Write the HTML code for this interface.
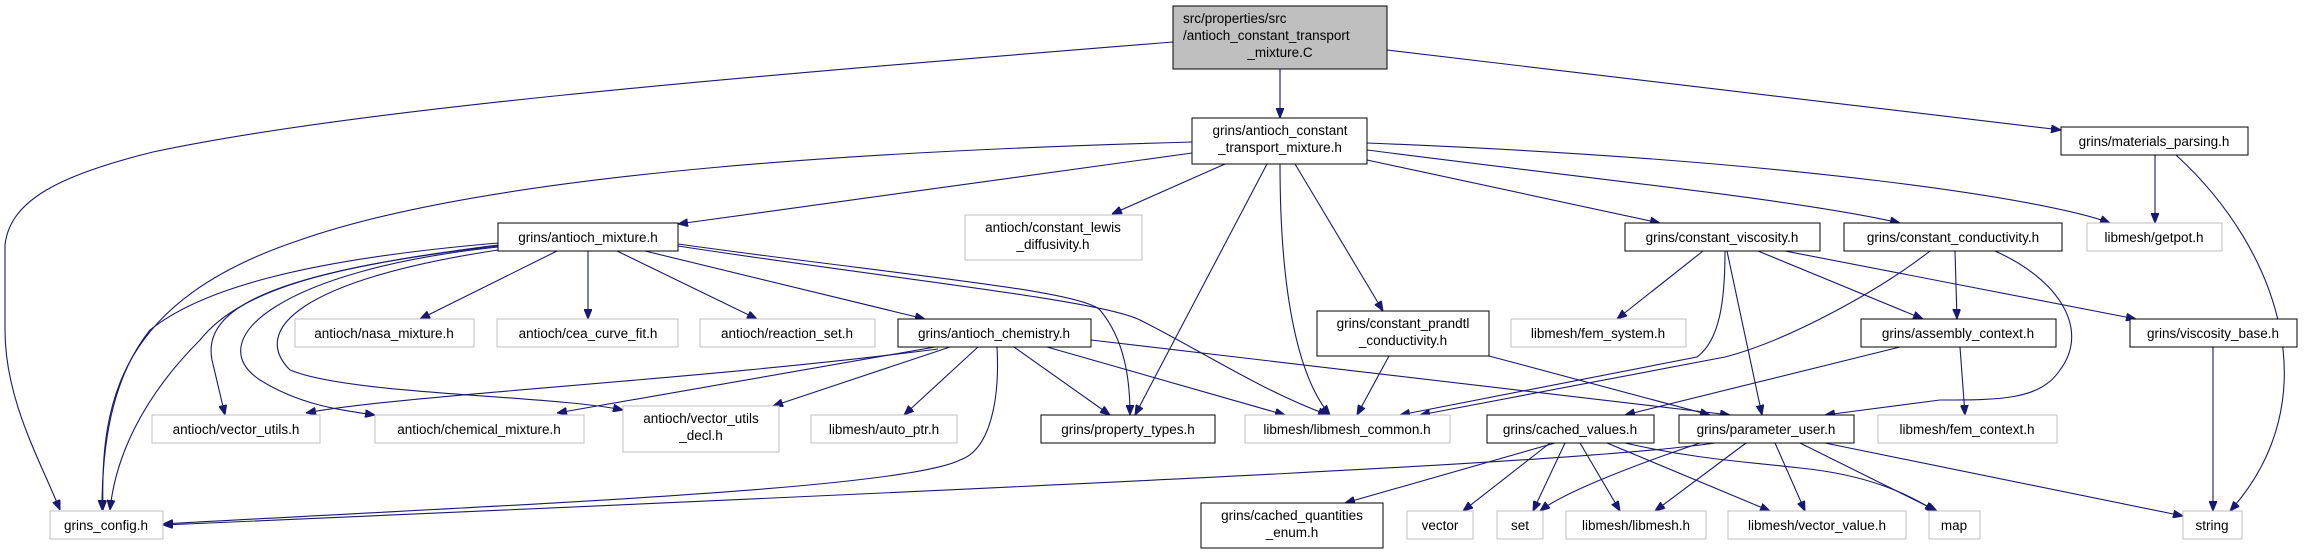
<!DOCTYPE html>
<html><head><meta charset="utf-8"><style>
html,body{margin:0;padding:0;background:#fff;}
svg{display:block;}
text{font-family:"Liberation Sans",Arial,sans-serif;font-size:13.5px;fill:#000;}
.e{fill:none;stroke:#191970;stroke-width:1.1;marker-end:url(#a);}
.g{fill:#fff;stroke:#bfbfbf;stroke-width:1;}
.b{fill:#fff;stroke:#000;stroke-width:1;}
</style></head><body>
<svg width="2319" height="555" viewBox="0 0 2319 555" xmlns="http://www.w3.org/2000/svg">
<defs><marker id="a" viewBox="0 0 10 8" refX="10" refY="4" markerWidth="10" markerHeight="8" markerUnits="userSpaceOnUse" orient="auto"><path d="M0,0 L10,4 L0,8 z" fill="#191970" stroke="#191970"/></marker></defs>

<path class="e" d="M1173,42 C700,80 350,110 153,152 C60,175 10,200 5,245 L5,330 C5,400 40,460 60,510"/>
<path class="e" d="M1280,69 L1280,118"/>
<path class="e" d="M1387,50 L2061,130"/>

<path class="e" d="M1192,142 C900,150 500,170 300,240 C120,300 100,400 103,510"/>
<path class="e" d="M1192,153 L678,224"/>
<path class="e" d="M1225,164 L1112,214"/>
<path class="e" d="M1267,164 L1135,415"/>
<path class="e" d="M1280,164 C1280,300 1300,380 1330,415"/>
<path class="e" d="M1295,164 L1383,311"/>
<path class="e" d="M1367,160 L1660,223"/>
<path class="e" d="M1367,150 C1600,180 1800,200 1900,223"/>
<path class="e" d="M1367,143 C1800,160 2050,200 2110,223"/>

<path class="e" d="M557,251 L420,319"/>
<path class="e" d="M588,251 L588,319"/>
<path class="e" d="M617,251 L757,319"/>
<path class="e" d="M645,251 L925,319"/>
<path class="e" d="M678,244 C900,275 1080,290 1100,310 C1125,340 1130,380 1130,415"/>
<path class="e" d="M678,246 C900,280 1100,300 1140,320 C1200,350 1260,390 1328,415"/>
<path class="e" d="M498,243 C300,260 200,290 150,330 C110,380 102,450 102,510"/>
<path class="e" d="M498,246 C330,265 240,290 200,340 C140,400 115,460 110,510"/>
<path class="e" d="M498,245 C300,270 200,300 212,360 L225,415"/>
<path class="e" d="M498,247 C280,270 200,340 260,380 C300,405 340,410 375,415"/>
<path class="e" d="M498,250 C300,280 250,330 290,370 C350,395 550,395 623,410"/>

<path class="e" d="M938,349 C700,380 400,395 306,413"/>
<path class="e" d="M935,347 L557,413"/>
<path class="e" d="M950,347 L773,406"/>
<path class="e" d="M978,347 L904,415"/>
<path class="e" d="M997,347 C1000,400 990,450 960,460 C900,490 500,505 163,524"/>
<path class="e" d="M1014,347 L1110,415"/>
<path class="e" d="M1047,347 L1285,415"/>
<path class="e" d="M1091,340 L1730,415"/>

<path class="e" d="M1389,356 L1357,415"/>
<path class="e" d="M1489,356 L1710,415"/>

<path class="e" d="M1703,251 L1617,319"/>
<path class="e" d="M1725,251 C1725,300 1720,340 1697,357 L1400,415"/>
<path class="e" d="M1727,251 L1762,415"/>
<path class="e" d="M1758,251 L1923,319"/>
<path class="e" d="M1785,251 L2136,319"/>

<path class="e" d="M1930,251 C1880,290 1790,340 1725,357 L1420,415"/>
<path class="e" d="M1955,251 L1957,319"/>
<path class="e" d="M1995,251 C2060,280 2090,330 2060,370 C2040,400 2000,400 1940,400 L1825,415"/>

<path class="e" d="M1900,347 L1625,415"/>
<path class="e" d="M1960,347 L1965,415"/>

<path class="e" d="M2213,347 L2213,511"/>
<path class="e" d="M2155,155 L2155,223"/>
<path class="e" d="M2176,155 C2280,250 2330,400 2230,511"/>

<path class="e" d="M1555,443 L1345,503"/>
<path class="e" d="M1550,443 L1463,511"/>
<path class="e" d="M1565,443 L1533,511"/>
<path class="e" d="M1580,443 L1620,511"/>
<path class="e" d="M1607,443 L1770,511"/>
<path class="e" d="M1625,443 C1700,460 1750,462 1800,468 C1870,475 1910,495 1935,511"/>

<path class="e" d="M1715,443 C1600,460 1200,480 163,525"/>
<path class="e" d="M1700,443 C1620,470 1560,495 1540,511"/>
<path class="e" d="M1746,443 L1655,511"/>
<path class="e" d="M1775,443 L1805,511"/>
<path class="e" d="M1800,443 L1937,511"/>
<path class="e" d="M1825,443 L2183,516"/>

<rect x="1173" y="6" width="214" height="63" fill="#bfbfbf" stroke="#000"/>
<text x="1183" y="23">src/properties/src</text>
<text x="1183" y="40">/antioch_constant_transport</text>
<text x="1280" y="57" text-anchor="middle">_mixture.C</text>

<rect class="b" x="1192" y="118" width="175" height="46"/>
<text x="1280" y="135" text-anchor="middle">grins/antioch_constant</text>
<text x="1280" y="152" text-anchor="middle">_transport_mixture.h</text>

<rect class="b" x="2061" y="127" width="187" height="28"/>
<text x="2154" y="146" text-anchor="middle">grins/materials_parsing.h</text>

<rect class="b" x="498" y="223" width="180" height="28"/>
<text x="588" y="242" text-anchor="middle">grins/antioch_mixture.h</text>

<rect class="g" x="965" y="215" width="177" height="45"/>
<text x="1053" y="232" text-anchor="middle">antioch/constant_lewis</text>
<text x="1053" y="249" text-anchor="middle">_diffusivity.h</text>

<rect class="b" x="1625" y="223" width="195" height="28"/>
<text x="1722" y="242" text-anchor="middle">grins/constant_viscosity.h</text>

<rect class="b" x="1844" y="223" width="218" height="28"/>
<text x="1953" y="242" text-anchor="middle">grins/constant_conductivity.h</text>

<rect class="g" x="2087" y="223" width="135" height="28"/>
<text x="2154" y="242" text-anchor="middle">libmesh/getpot.h</text>

<rect class="g" x="295" y="319" width="179" height="28"/>
<text x="384" y="338" text-anchor="middle">antioch/nasa_mixture.h</text>

<rect class="g" x="497" y="319" width="181" height="28"/>
<text x="588" y="338" text-anchor="middle">antioch/cea_curve_fit.h</text>

<rect class="g" x="700" y="319" width="175" height="28"/>
<text x="787" y="338" text-anchor="middle">antioch/reaction_set.h</text>

<rect class="b" x="898" y="319" width="193" height="28"/>
<text x="994" y="338" text-anchor="middle">grins/antioch_chemistry.h</text>

<rect class="b" x="1317" y="311" width="172" height="45"/>
<text x="1403" y="328" text-anchor="middle">grins/constant_prandtl</text>
<text x="1403" y="345" text-anchor="middle">_conductivity.h</text>

<rect class="g" x="1511" y="319" width="175" height="28"/>
<text x="1598" y="338" text-anchor="middle">libmesh/fem_system.h</text>

<rect class="b" x="1861" y="319" width="195" height="28"/>
<text x="1958" y="338" text-anchor="middle">grins/assembly_context.h</text>

<rect class="b" x="2130" y="319" width="167" height="28"/>
<text x="2213" y="338" text-anchor="middle">grins/viscosity_base.h</text>

<rect class="g" x="152" y="415" width="168" height="28"/>
<text x="236" y="434" text-anchor="middle">antioch/vector_utils.h</text>

<rect class="g" x="375" y="415" width="209" height="28"/>
<text x="479" y="434" text-anchor="middle">antioch/chemical_mixture.h</text>

<rect class="g" x="623" y="406" width="156" height="46"/>
<text x="701" y="423" text-anchor="middle">antioch/vector_utils</text>
<text x="701" y="440" text-anchor="middle">_decl.h</text>

<rect class="g" x="811" y="415" width="146" height="28"/>
<text x="884" y="434" text-anchor="middle">libmesh/auto_ptr.h</text>

<rect class="b" x="1041" y="415" width="174" height="28"/>
<text x="1128" y="434" text-anchor="middle">grins/property_types.h</text>

<rect class="g" x="1245" y="415" width="205" height="28"/>
<text x="1347" y="434" text-anchor="middle">libmesh/libmesh_common.h</text>

<rect class="b" x="1487" y="415" width="167" height="28"/>
<text x="1570" y="434" text-anchor="middle">grins/cached_values.h</text>

<rect class="b" x="1679" y="415" width="175" height="28"/>
<text x="1766" y="434" text-anchor="middle">grins/parameter_user.h</text>

<rect class="g" x="1878" y="415" width="179" height="28"/>
<text x="1967" y="434" text-anchor="middle">libmesh/fem_context.h</text>

<rect class="g" x="50" y="511" width="113" height="28"/>
<text x="106" y="530" text-anchor="middle">grins_config.h</text>

<rect class="b" x="1201" y="503" width="182" height="45"/>
<text x="1292" y="520" text-anchor="middle">grins/cached_quantities</text>
<text x="1292" y="537" text-anchor="middle">_enum.h</text>

<rect class="g" x="1407" y="511" width="66" height="28"/>
<text x="1440" y="530" text-anchor="middle">vector</text>

<rect class="g" x="1497" y="511" width="46" height="28"/>
<text x="1520" y="530" text-anchor="middle">set</text>

<rect class="g" x="1566" y="511" width="140" height="28"/>
<text x="1636" y="530" text-anchor="middle">libmesh/libmesh.h</text>

<rect class="g" x="1728" y="511" width="178" height="28"/>
<text x="1817" y="530" text-anchor="middle">libmesh/vector_value.h</text>

<rect class="g" x="1929" y="511" width="51" height="28"/>
<text x="1954" y="530" text-anchor="middle">map</text>

<rect class="g" x="2183" y="511" width="59" height="28"/>
<text x="2212" y="530" text-anchor="middle">string</text>
</svg>
</body></html>
